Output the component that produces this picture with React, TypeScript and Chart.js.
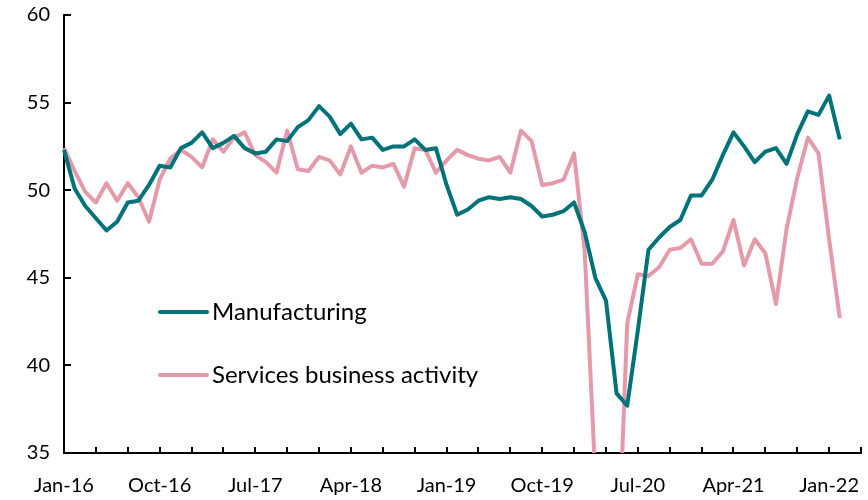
import { useEffect, useRef } from "react";
import { Chart, registerables } from "chart.js";

Chart.register(...registerables);

// Monthly categories (axis runs two months past the last observation)
const categories = [
  "Jan-16","Feb-16","Mar-16","Apr-16","May-16","Jun-16","Jul-16","Aug-16","Sep-16","Oct-16","Nov-16","Dec-16",
  "Jan-17","Feb-17","Mar-17","Apr-17","May-17","Jun-17","Jul-17","Aug-17","Sep-17","Oct-17","Nov-17","Dec-17",
  "Jan-18","Feb-18","Mar-18","Apr-18","May-18","Jun-18","Jul-18","Aug-18","Sep-18","Oct-18","Nov-18","Dec-18",
  "Jan-19","Feb-19","Mar-19","Apr-19","May-19","Jun-19","Jul-19","Aug-19","Sep-19","Oct-19","Nov-19","Dec-19",
  "Jan-20","Feb-20","Mar-20","Apr-20","May-20","Jun-20","Jul-20","Aug-20","Sep-20","Oct-20","Nov-20","Dec-20",
  "Jan-21","Feb-21","Mar-21","Apr-21","May-21","Jun-21","Jul-21","Aug-21","Sep-21","Oct-21","Nov-21","Dec-21",
  "Jan-22","Feb-22","Mar-22","Apr-22",
];

const manufacturing = [
  52.3, 50.1, 49.1, 48.4, 47.7, 48.2, 49.3, 49.4, 50.3, 51.4, 51.3, 52.4,
  52.7, 53.3, 52.4, 52.7, 53.1, 52.4, 52.1, 52.2, 52.9, 52.8, 53.6, 54.0,
  54.8, 54.2, 53.2, 53.8, 52.9, 53.0, 52.3, 52.5, 52.5, 52.9, 52.3, 52.4,
  50.3, 48.6, 48.9, 49.4, 49.6, 49.5, 49.6, 49.5, 49.1, 48.5, 48.6, 48.8,
  49.3, 47.6, 45.0, 43.7, 38.4, 37.7, 42.0, 46.6, 47.3, 47.9, 48.3, 49.7,
  49.7, 50.6, 52.0, 53.3, 52.5, 51.6, 52.2, 52.4, 51.5, 53.2, 54.5, 54.3,
  55.4, 52.9,
];

const services = [
  52.4, 51.1, 49.9, 49.3, 50.4, 49.4, 50.4, 49.6, 48.2, 50.6, 51.8, 52.3,
  51.9, 51.3, 52.9, 52.2, 53.0, 53.3, 52.0, 51.6, 51.0, 53.4, 51.2, 51.1,
  51.9, 51.7, 50.9, 52.5, 51.0, 51.4, 51.3, 51.5, 50.2, 52.4, 52.3, 51.0,
  51.7, 52.3, 52.0, 51.8, 51.7, 51.9, 51.0, 53.4, 52.8, 50.3, 50.4, 50.6,
  52.1, 46.5, 33.6, 22.0, 26.5, 42.4, 45.2, 45.1, 45.6, 46.6, 46.7, 47.2,
  45.8, 45.8, 46.5, 48.3, 45.7, 47.2, 46.4, 43.5, 47.8, 50.7, 53.0, 52.1,
  47.2, 42.7,
];

const xTickLabels = ["Jan-16","Oct-16","Jul-17","Apr-18","Jan-19","Oct-19","Jul-20","Apr-21","Jan-22"];
const yTicks = [35, 40, 45, 50, 55, 60];

const TEAL = "#00727A";
const PINK = "#E59AAA";
const FONT = "Lato, 'Open Sans', sans-serif";

const extrasPlugin = {
  id: "extras",
  afterDraw(chart: any) {
    const { ctx, chartArea, scales } = chart;
    const x = scales.x;
    const y = scales.y;
    ctx.save();
    ctx.strokeStyle = "#000";
    ctx.lineWidth = 2;
    // inside tick marks on x axis every quarter
    for (let i = 0; i < categories.length; i += 3) {
      const px = Math.round(x.getPixelForValue(i));
      ctx.beginPath();
      ctx.moveTo(px, chartArea.bottom);
      ctx.lineTo(px, chartArea.bottom - 6);
      ctx.stroke();
    }
    // inside tick marks on y axis
    for (const v of yTicks) {
      const py = Math.round(y.getPixelForValue(v));
      ctx.beginPath();
      ctx.moveTo(chartArea.left, py);
      ctx.lineTo(chartArea.left + 7, py);
      ctx.stroke();
    }
    // legend inside the plot
    const items = chart.data.datasets;
    const lx = chartArea.left + 96;
    const rows = [chartArea.top + 297, chartArea.top + 360];
    ctx.font = `24px ${FONT}`;
    ctx.textBaseline = "middle";
    ctx.textAlign = "left";
    items.forEach((ds: any, k: number) => {
      const ly = rows[k];
      ctx.strokeStyle = ds.borderColor;
      ctx.lineWidth = 4;
      ctx.lineCap = "round";
      ctx.beginPath();
      ctx.moveTo(lx, ly);
      ctx.lineTo(lx + 47, ly);
      ctx.stroke();
      ctx.fillStyle = "#000";
      ctx.fillText(ds.label, lx + 52, ly);
    });
    ctx.restore();
  },
};

export default function App() {
  const ref = useRef<HTMLCanvasElement | null>(null);

  useEffect(() => {
    if (!ref.current) return;
    const chart = new Chart(ref.current, {
      type: "line",
      data: {
        labels: categories,
        datasets: [
          {
            label: "Manufacturing",
            data: manufacturing,
            borderColor: TEAL,
            backgroundColor: TEAL,
            borderWidth: 4,
            pointRadius: 0,
            tension: 0,
            borderJoinStyle: "round",
          },
          {
            label: "Services business activity",
            data: services,
            borderColor: PINK,
            backgroundColor: PINK,
            borderWidth: 4,
            pointRadius: 0,
            tension: 0,
            borderJoinStyle: "round",
          },
        ],
      },
      options: {
        responsive: false,
        animation: false,
        devicePixelRatio: 1,
        layout: { padding: { left: 0, right: 7, top: 15, bottom: 0 } },
        plugins: {
          legend: { display: false },
          tooltip: { enabled: false },
        },
        scales: {
          x: {
            type: "category",
            offset: false,
            grid: {
              display: true,
              drawOnChartArea: false,
              drawTicks: true,
              tickLength: 21,
              tickColor: "rgba(0,0,0,0)",
            },
            border: { display: true, color: "#000", width: 2 },
            ticks: {
              autoSkip: false,
              maxRotation: 0,
              minRotation: 0,
              padding: 0,
              color: "#000",
              font: { family: FONT, size: 20 },
              callback: (_v: any, i: number) =>
                xTickLabels.includes(categories[i]) ? categories[i] : "",
            },
            afterFit: (s: any) => {
              s.height = 47;
            },
          },
          y: {
            min: 35,
            max: 60,
            grid: {
              display: true,
              drawOnChartArea: false,
              drawTicks: true,
              tickLength: 14,
              tickColor: "rgba(0,0,0,0)",
            },
            border: { display: true, color: "#000", width: 2 },
            ticks: {
              stepSize: 5,
              padding: 0,
              color: "#000",
              font: { family: FONT, size: 20 },
            },
            afterFit: (s: any) => {
              s.width = 64;
            },
          },
        },
      },
      plugins: [extrasPlugin],
    });
    return () => chart.destroy();
  }, []);

  return (
    <div style={{ position: "absolute", left: 0, top: 0, width: 868, height: 500 }}>
      <canvas ref={ref} width={868} height={500} style={{ display: "block" }} />
    </div>
  );
}
